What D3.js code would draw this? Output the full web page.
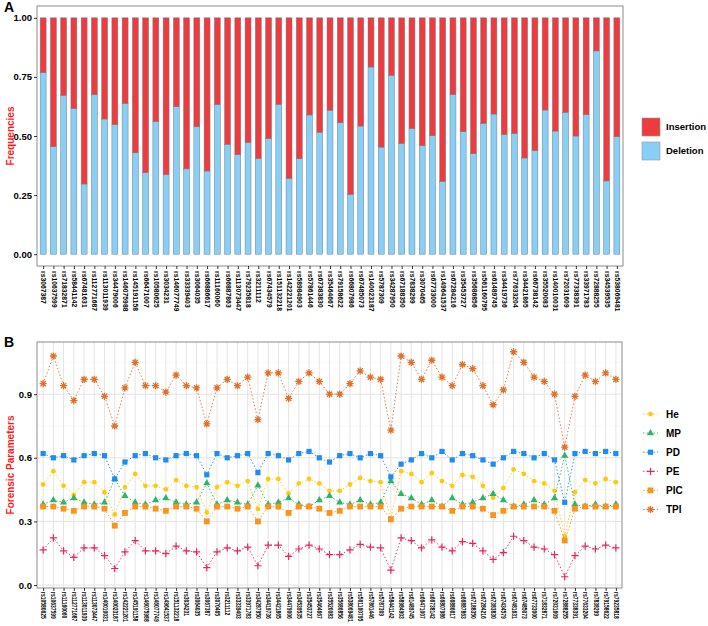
<!DOCTYPE html>
<html><head><meta charset="utf-8">
<script src="https://cdn.jsdelivr.net/npm/d3@7"></script>
<style>body{margin:0;background:#fff} text{font-family:"Liberation Sans",Arial,sans-serif}</style>
</head><body><svg id="c" width="708" height="626"></svg>
<script>
const snpsA = ["rs3067387","rs10637599","rs71832871","rs58441142","rs67481631","rs112771687","rs113011939","rs34479006","rs146075988","rs145191158","rs66471007","rs10580625","rs3034231","rs146077749","rs33339403","rs3064035","rs66886617","rs11160060","rs66887863","rs113073447","rs79235818","rs3211112","rs67434579","rs151132218","rs142221201","rs58984903","rs57861446","rs67383830","rs35464667","rs79158622","rs66807986","rs67485073","rs140023187","rs5787309","rs34287950","rs67188350","rs7838299","rs3070465","rs67733000","rs149641537","rs67284216","rs35453727","rs35686856","rs561160795","rs61489745","rs34419736","rs77633204","rs34421865","rs66738142","rs35520083","rs140010031","rs72031609","rs77338391","rs33971783","rs72888255","rs34539535","rs538069481"];
const deletion = [0.768,0.455,0.672,0.616,0.297,0.675,0.572,0.548,0.638,0.429,0.345,0.561,0.336,0.624,0.361,0.539,0.352,0.633,0.465,0.421,0.473,0.404,0.489,0.634,0.321,0.404,0.589,0.516,0.609,0.556,0.253,0.542,0.792,0.453,0.757,0.469,0.532,0.459,0.501,0.308,0.675,0.518,0.425,0.554,0.593,0.506,0.510,0.407,0.438,0.610,0.521,0.600,0.500,0.590,0.860,0.310,0.497];
const insertion = [0.232,0.545,0.328,0.384,0.703,0.325,0.428,0.452,0.362,0.571,0.655,0.439,0.664,0.376,0.639,0.461,0.648,0.367,0.535,0.579,0.527,0.596,0.511,0.366,0.679,0.596,0.411,0.484,0.391,0.444,0.747,0.458,0.208,0.547,0.243,0.531,0.468,0.541,0.499,0.692,0.325,0.482,0.575,0.446,0.407,0.494,0.490,0.593,0.562,0.390,0.479,0.400,0.500,0.410,0.140,0.690,0.503];
const ticksA = [0, 0.25, 0.5, 0.75, 1];

const snpsB = ["rs10580625","rs10637599","rs11160060","rs112771687","rs113011939","rs113073447","rs140010031","rs140023187","rs142221201","rs145191158","rs146075988","rs146077749","rs149641537","rs151132218","rs3034231","rs3064035","rs3067387","rs3070465","rs3211112","rs33339403","rs33971783","rs34287950","rs34419736","rs34421865","rs34479006","rs34539535","rs35453727","rs35464667","rs35520083","rs35686856","rs538069481","rs561160795","rs57861446","rs5787309","rs58441142","rs58984903","rs61489745","rs66471007","rs66738142","rs66807986","rs66886617","rs66887863","rs67188350","rs67284216","rs67383830","rs67434579","rs67481631","rs67485073","rs67733000","rs71832871","rs72031609","rs72888255","rs77338391","rs77633204","rs7838299","rs79158622","rs79235818"];
const he  = [0.474,0.537,0.468,0.425,0.485,0.485,0.438,0.333,0.462,0.524,0.468,0.468,0.451,0.495,0.468,0.462,0.342,0.462,0.485,0.468,0.490,0.359,0.500,0.500,0.432,0.479,0.500,0.479,0.444,0.444,0.474,0.505,0.490,0.485,0.315,0.537,0.524,0.485,0.528,0.490,0.468,0.519,0.510,0.468,0.412,0.457,0.545,0.524,0.490,0.479,0.444,0.231,0.438,0.495,0.479,0.500,0.485];
const pd  = [0.62,0.60,0.61,0.59,0.61,0.62,0.61,0.50,0.58,0.61,0.62,0.60,0.59,0.61,0.62,0.61,0.52,0.62,0.60,0.61,0.62,0.53,0.62,0.61,0.59,0.62,0.63,0.60,0.58,0.61,0.62,0.60,0.62,0.61,0.51,0.57,0.59,0.62,0.60,0.63,0.59,0.62,0.61,0.59,0.57,0.60,0.63,0.62,0.60,0.62,0.59,0.39,0.62,0.63,0.62,0.63,0.62];
const mp  = [0.38,0.40,0.39,0.41,0.39,0.38,0.39,0.50,0.42,0.39,0.38,0.40,0.41,0.39,0.38,0.39,0.48,0.38,0.40,0.39,0.38,0.47,0.38,0.39,0.41,0.38,0.37,0.40,0.42,0.39,0.38,0.40,0.38,0.39,0.49,0.43,0.41,0.38,0.40,0.37,0.41,0.38,0.39,0.41,0.43,0.40,0.37,0.38,0.40,0.38,0.41,0.61,0.38,0.37,0.38,0.37,0.38];
const pe  = [0.166,0.222,0.161,0.130,0.175,0.175,0.139,0.078,0.156,0.209,0.161,0.161,0.148,0.183,0.161,0.156,0.082,0.156,0.175,0.161,0.179,0.091,0.188,0.188,0.135,0.170,0.188,0.170,0.143,0.143,0.166,0.192,0.179,0.175,0.070,0.222,0.209,0.175,0.213,0.179,0.161,0.205,0.196,0.161,0.121,0.153,0.230,0.209,0.179,0.170,0.143,0.039,0.139,0.183,0.170,0.188,0.175];
const pic = [0.37,0.37,0.36,0.35,0.37,0.37,0.36,0.28,0.34,0.37,0.37,0.36,0.35,0.37,0.37,0.36,0.30,0.37,0.37,0.36,0.37,0.30,0.37,0.37,0.34,0.37,0.37,0.36,0.34,0.35,0.37,0.37,0.37,0.37,0.31,0.36,0.37,0.37,0.37,0.37,0.35,0.37,0.37,0.36,0.33,0.35,0.37,0.37,0.37,0.37,0.35,0.21,0.36,0.37,0.37,0.37,0.37];
const tpi = [0.95,1.08,0.94,0.87,0.97,0.97,0.89,0.75,0.93,1.05,0.94,0.94,0.91,0.99,0.94,0.93,0.76,0.93,0.97,0.94,0.98,0.78,1.00,1.00,0.88,0.96,1.00,0.96,0.90,0.90,0.95,1.01,0.98,0.97,0.73,1.08,1.05,0.97,1.06,0.98,0.94,1.04,1.02,0.94,0.85,0.92,1.10,1.05,0.98,0.96,0.90,0.65,0.89,0.99,0.96,1.00,0.97];
const ticksB = [0, 0.3, 0.6, 0.9];
const seriesNames = ["He","MP","PD","PE","PIC","TPI"];
const seriesColors = ["#FFC90E","#2DB36B","#1E8CF0","#E8285A","#F7941D","#E0702A"];

const svg = d3.select("#c");
const FONT = '"Liberation Sans",Arial,sans-serif';

// ---------- Panel A ----------
const A = {l:37, r:623, t:6, b:266};
const xA = d3.scalePoint().domain(snpsA).range([A.l, A.r]).padding(0.6);
const yA = d3.scaleLinear().domain([-0.05, 1.05]).range([A.b, A.t]);
const bw = xA.step() * 0.58;
const rowsA = snpsA.map((s,i)=>({snp:s, Deletion:deletion[i], Insertion:insertion[i]}));
const stackA = d3.stack().keys(["Deletion","Insertion"])(rowsA);
const colA = {Insertion:"#EE3B3E", Deletion:"#89CFF5"};
svg.append("rect").attr("x",A.l).attr("y",A.t).attr("width",A.r-A.l).attr("height",A.b-A.t).attr("fill","#fff");
stackA.forEach(layer=>{
  svg.append("g").selectAll("rect").data(layer).join("rect")
    .attr("x", d=>xA(d.data.snp)-bw/2).attr("width", bw)
    .attr("y", d=>yA(d[1])).attr("height", d=>yA(d[0])-yA(d[1]))
    .attr("fill", colA[layer.key]).attr("stroke","#6d7f8c").attr("stroke-width",0.5);
});
svg.append("rect").attr("x",A.l).attr("y",A.t).attr("width",A.r-A.l).attr("height",A.b-A.t)
  .attr("fill","none").attr("stroke","#8c8c8c").attr("stroke-width",1);
const axYA = svg.append("g").attr("transform",`translate(${A.l},0)`)
  .call(d3.axisLeft(yA).tickValues(ticksA).tickFormat(d3.format(".2f")).tickSize(3));
const axXA = svg.append("g").attr("transform",`translate(0,${A.b})`)
  .call(d3.axisBottom(xA).tickSize(3));

// ---------- Panel B ----------
const B = {l:37, r:622, t:342, b:588};
const xB = d3.scalePoint().domain(snpsB).range([B.l, B.r]).padding(0.6);
const yB = d3.scaleLinear().domain([-0.014, 1.146]).range([B.b, B.t]);
svg.append("rect").attr("x",B.l).attr("y",B.t).attr("width",B.r-B.l).attr("height",B.b-B.t).attr("fill","#fff");
const gridB = svg.append("g");
[0.15,0.45,0.75,1.05].forEach(v=>gridB.append("line").attr("x1",B.l).attr("x2",B.r).attr("y1",yB(v)).attr("y2",yB(v)).attr("stroke","#f2f2f2").attr("stroke-width",0.6));
ticksB.forEach(v=>gridB.append("line").attr("x1",B.l).attr("x2",B.r).attr("y1",yB(v)).attr("y2",yB(v)).attr("stroke","#e4e4e4").attr("stroke-width",1));
snpsB.forEach(s=>gridB.append("line").attr("x1",xB(s)).attr("x2",xB(s)).attr("y1",B.t).attr("y2",B.b).attr("stroke","#e4e4e4").attr("stroke-width",1));

const seriesVals = [he, mp, pd, pe, pic, tpi];
function marker(g, k, color) {
  if (k===0) g.append("circle").attr("r",2.4).attr("fill",color);
  else if (k===1) g.append("path").attr("d",d3.symbol(d3.symbolTriangle,22)()).attr("fill",color);
  else if (k===2) g.append("rect").attr("x",-2.6).attr("y",-2.6).attr("width",5.2).attr("height",5.2).attr("fill",color);
  else if (k===3) g.append("path").attr("d","M-3.6,0H3.6M0,-3.6V3.6").attr("stroke",color).attr("stroke-width",1.2);
  else if (k===4) g.append("rect").attr("x",-2.9).attr("y",-2.9).attr("width",5.8).attr("height",5.8).attr("fill",color);
  else {
    g.append("path").attr("d","M-3.6,0H3.6M0,-3.6V3.6M-2.6,-2.6L2.6,2.6M-2.6,2.6L2.6,-2.6").attr("stroke",color).attr("stroke-width",1.3);
    g.append("circle").attr("r",1.3).attr("fill",color);
  }
}
const line = d3.line().x(d=>xB(d[0])).y(d=>yB(d[1]));
seriesVals.forEach((vals,k)=>{
  const pts = snpsB.map((s,i)=>[s, vals[i]]);
  svg.append("path").attr("d", line(pts)).attr("fill","none")
    .attr("stroke", seriesColors[k]).attr("stroke-width",0.9).attr("stroke-dasharray","1.5,2");
  pts.forEach(p=>{
    const g = svg.append("g").attr("transform",`translate(${xB(p[0])},${yB(p[1])})`);
    marker(g,k,seriesColors[k]);
  });
});
svg.append("rect").attr("x",B.l).attr("y",B.t).attr("width",B.r-B.l).attr("height",B.b-B.t)
  .attr("fill","none").attr("stroke","#8c8c8c").attr("stroke-width",1);
const axYB = svg.append("g").attr("transform",`translate(${B.l},0)`)
  .call(d3.axisLeft(yB).tickValues(ticksB).tickFormat(d3.format(".1f")).tickSize(3));
const axXB = svg.append("g").attr("transform",`translate(0,${B.b})`)
  .call(d3.axisBottom(xB).tickSize(3));

// axis styling
[axYA, axYB].forEach(ax=>{
  ax.select(".domain").remove();
  ax.selectAll(".tick line").attr("stroke","#333");
  ax.selectAll(".tick text").attr("font-family",FONT).attr("font-size",9.5).attr("font-weight","bold").attr("fill","#000").attr("x",-5);
});
axXA.select(".domain").remove();
axXA.selectAll(".tick line").attr("stroke","#333");
axXA.selectAll(".tick text").attr("font-family",FONT).attr("font-size",6.8).attr("font-weight","bold").attr("fill","#000")
  .attr("transform","rotate(90)").attr("text-anchor","start").attr("x",5).attr("y",0).attr("dy","0.35em");
axXB.select(".domain").remove();
axXB.selectAll(".tick line").attr("stroke","#333");
axXB.selectAll(".tick text").attr("font-family",FONT).attr("font-size",5).attr("font-weight","bold").attr("fill","#000")
  .attr("transform","rotate(90) scale(1,1.35)").attr("text-anchor","start").attr("x",4).attr("y",0).attr("dy","0.35em");

// titles
svg.append("text").attr("x",4).attr("y",12).text("A").attr("font-size",14).attr("font-weight","bold").attr("font-family",FONT);
svg.append("text").attr("x",4).attr("y",347).text("B").attr("font-size",14).attr("font-weight","bold").attr("font-family",FONT);
svg.append("text").attr("transform",`translate(14,${(A.t+A.b)/2}) rotate(-90)`).attr("text-anchor","middle")
  .text("Frequencies").attr("fill","#FF1A1A").attr("font-size",10).attr("font-weight","bold").attr("font-family",FONT);
svg.append("text").attr("transform",`translate(14,${(B.t+B.b)/2}) rotate(-90)`).attr("text-anchor","middle")
  .text("Forensic Parameters").attr("fill","#FF1A1A").attr("font-size",10).attr("font-weight","bold").attr("font-family",FONT);

// legend A
["Insertion","Deletion"].forEach((k,i)=>{
  const y = 118 + i*24;
  svg.append("rect").attr("x",642).attr("y",y).attr("width",18).attr("height",18).attr("fill",colA[k]).attr("stroke","#8c9aa4").attr("stroke-width",0.6);
  svg.append("text").attr("x",666).attr("y",y+9).attr("dy","0.35em").text(k).attr("font-size",9.5).attr("font-weight","bold").attr("font-family",FONT);
});
// legend B
seriesNames.forEach((n,k)=>{
  const y = 414 + k*19.1;
  svg.append("line").attr("x1",643).attr("x2",658).attr("y1",y).attr("y2",y).attr("stroke",seriesColors[k]).attr("stroke-width",0.9).attr("stroke-dasharray","1.5,2");
  const g = svg.append("g").attr("transform",`translate(650.5,${y})`);
  marker(g,k,seriesColors[k]);
  svg.append("text").attr("x",666).attr("y",y).attr("dy","0.35em").text(n).attr("font-size",10).attr("font-weight","bold").attr("font-family",FONT);
});
</script></body></html>
